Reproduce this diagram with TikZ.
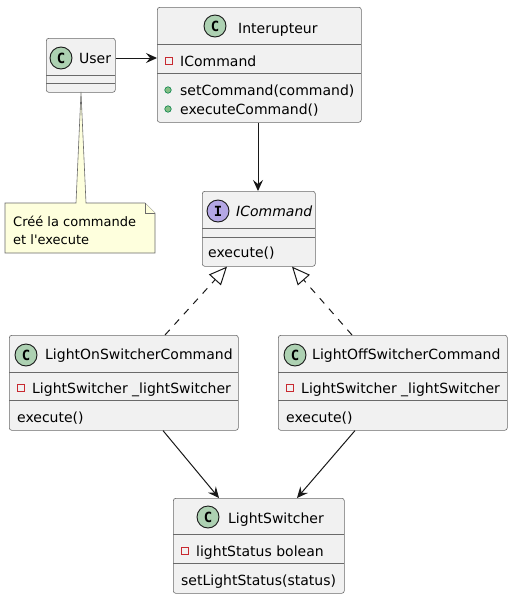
\documentclass[tikz,border=0pt]{standalone}
\usepackage{fontspec}
\setmainfont{DejaVu Sans}
\newfontfamily\circfont{DejaVu Sans Mono}
\newfontfamily\notefont{DejaVu Sans}
\usetikzlibrary{arrows.meta,calc}
\definecolor{border}{HTML}{181818}
\definecolor{boxline}{HTML}{6A6A6A}
\definecolor{boxfill}{HTML}{F1F1F1}
\definecolor{cgreen}{HTML}{ADD1B2}
\definecolor{ipurple}{HTML}{B4A7E5}
\definecolor{notefill}{HTML}{FEFFDD}
\definecolor{privred}{HTML}{C82930}
\definecolor{pubfill}{HTML}{84BE84}
\definecolor{pubdraw}{HTML}{038048}
\tikzset{
  umlbox/.style={draw=boxline, fill=boxfill, rounded corners=2.5pt, line width=0.6pt, inner sep=0pt, anchor=north west},
  sepline/.style={draw=boxline, line width=0.6pt},
  circ/.style={circle, draw=border, line width=0.9pt, minimum size=22pt, inner sep=0pt, font=\circfont\fontsize{14}{14}\selectfont\bfseries},
  txt/.style={anchor=base west, inner sep=0pt, font=\fontsize{14}{16}\selectfont, text=black},
  notetxt/.style={anchor=base west, inner sep=0pt, font=\notefont\fontsize{13}{15}\selectfont, text=black},
  privicon/.style={draw=privred, line width=0.8pt, minimum size=6.5pt, inner sep=0pt},
  pubicon/.style={circle, draw=pubdraw, fill=pubfill, line width=0.6pt, minimum size=6.5pt, inner sep=0pt},
  assoc/.style={draw=border, line width=1pt, -{Stealth[length=11pt,width=10pt,inset=4pt]}},
  realize/.style={draw=border, line width=1pt, dash pattern=on 7pt off 7pt, -{Triangle[open,length=18pt,width=16pt,fill=white]}},
}
\begin{document}
\begin{tikzpicture}[x=1pt,y=-1pt]
\useasboundingbox (0,0) rectangle (514,600);

% ---------- User ----------
\node[umlbox, minimum width=69pt, minimum height=54pt] (user) at (46,38) {};
\draw[sepline] (46,75) -- (115,75);
\draw[sepline] (46,83) -- (115,83);
\node[circ, fill=cgreen] (userc) at (61,58) {C};
\node[txt] (usert) at (79,63) {User};

% ---------- Interupteur ----------
\node[umlbox, minimum width=204pt, minimum height=115pt] (int) at (157,7) {};
\draw[sepline] (157,44) -- (361,44);
\draw[sepline] (157,73) -- (361,73);
\node[circ, fill=cgreen] (intc) at (215,26) {C};
\node[txt] (intt) at (238,33) {Interupteur};
\node[privicon] (inta) at (169,61) {};
\node[txt] (intat) at (180,66) {ICommand};
\node[pubicon] (intm1) at (168,90) {};
\node[txt] (intm1t) at (180,95) {setCommand(command)};
\node[pubicon] (intm2) at (168,109) {};
\node[txt] (intm2t) at (180,114) {executeCommand()};

% ---------- ICommand ----------
\node[umlbox, minimum width=113pt, minimum height=75pt] (icmd) at (202,191) {};
\draw[sepline] (202,228) -- (315,228);
\draw[sepline] (202,237) -- (315,237);
\node[circ, fill=ipurple] (icmdc) at (218,211) {I};
\node[txt, font=\fontsize{14}{16}\selectfont\itshape] (icmdt) at (236,216) {ICommand};
\node[txt] (icmdm) at (208,257) {execute()};

% ---------- LightOnSwitcherCommand ----------
\node[umlbox, minimum width=229pt, minimum height=95pt] (lon) at (9,335) {};
\draw[sepline] (9,372) -- (238,372);
\draw[sepline] (9,400) -- (238,400);
\node[circ, fill=cgreen] (lonc) at (26,355) {C};
\node[txt] (lont) at (45,359) {LightOnSwitcherCommand};
\node[privicon] (lona) at (21,388) {};
\node[txt] (lonat) at (32,393) {LightSwitcher \_lightSwitcher};
\node[txt] (lonm) at (17,422) {execute()};

% ---------- LightOffSwitcherCommand ----------
\node[umlbox, minimum width=229pt, minimum height=95pt] (loff) at (278,335) {};
\draw[sepline] (278,372) -- (507,372);
\draw[sepline] (278,400) -- (507,400);
\node[circ, fill=cgreen] (loffc) at (295,355) {C};
\node[txt] (lofft) at (312,359) {LightOffSwitcherCommand};
\node[privicon] (loffa) at (290,388) {};
\node[txt] (loffat) at (301,393) {LightSwitcher \_lightSwitcher};
\node[txt] (loffm) at (286,422) {execute()};

% ---------- LightSwitcher ----------
\node[umlbox, minimum width=171pt, minimum height=95pt] (ls) at (173,498) {};
\draw[sepline] (173,534) -- (344,534);
\draw[sepline] (173,563) -- (344,563);
\node[circ, fill=cgreen] (lsc) at (208,517) {C};
\node[txt] (lst) at (228,523) {LightSwitcher};
\node[privicon] (lsa) at (185,551) {};
\node[txt] (lsat) at (196,556) {lightStatus bolean};
\node[txt] (lsm) at (181,585) {setLightStatus(status)};

% ---------- Note ----------
\coordinate (noteanchor) at (81,92);
\filldraw[fill=notefill, draw=boxline, line width=0.6pt]
  (5,203) -- (76,203) -- (noteanchor) -- (86,203) -- (145,203) -- (155,213) -- (155,253) -- (5,253) -- cycle;
\draw[draw=boxline, fill=notefill, line width=0.6pt] (145,203) -- (145,213) -- (155,213);
\node[notetxt] (note1) at (13,226) {Créé la commande};
\node[notetxt] (note2) at (13,244) {et l'execute};

% ---------- Connectors ----------
\draw[assoc] (user.east |- userc) -- (int.west |- userc);
\draw[assoc] (int.south -| 258,0) -- (icmd.north -| 258,0);
\draw[realize] ($(lon.north west)+(156,0)$) -- ($(icmd.south west)+(25,0)$);
\draw[realize] ($(loff.north west)+(74,0)$) -- ($(icmd.south west)+(90,0)$);
\draw[assoc] ($(lon.south west)+(154,0)$) -- ($(ls.north west)+(46,0)$);
\draw[assoc] ($(loff.south west)+(77,0)$) -- ($(ls.north west)+(124,0)$);
\end{tikzpicture}
\end{document}
